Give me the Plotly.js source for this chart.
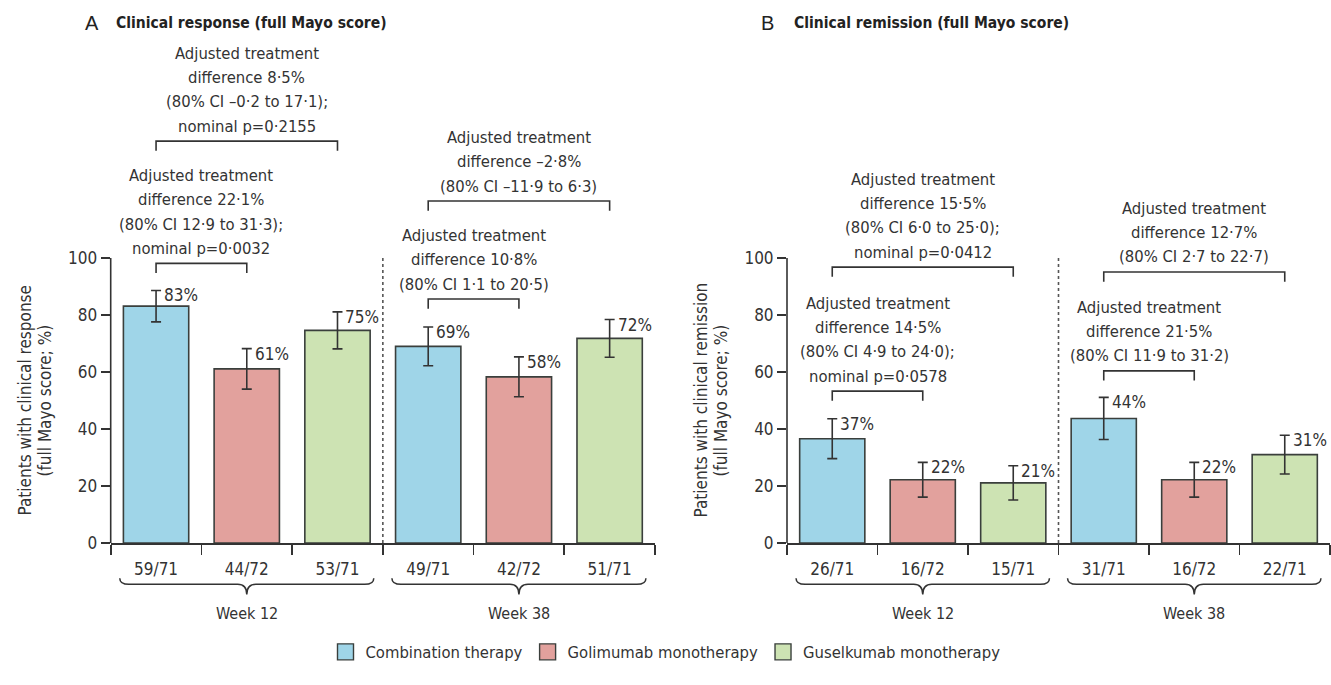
<!DOCTYPE html>
<html>
<head>
<meta charset="utf-8">
<script src="https://cdn.plot.ly/plotly-3.0.1.min.js"></script>
<style>html,body{margin:0;padding:0;background:#fff;}#chart{width:1331px;height:685px;}</style>
</head>
<body>
<div id="chart"></div>
<script>
// ---------- DATA ----------
const treatments = ['Combination therapy', 'Golimumab monotherapy', 'Guselkumab monotherapy'];
const weeks = ['Week 12', 'Week 38'];

// Panel A: clinical response (%), [week 12, week 38]
const respCombo = [83.1, 69.0];
const respGoli = [61.1, 58.3];
const respGusel = [74.6, 71.8];
const respComboErr = [5.5, 6.8];
const respGoliErr = [7.1, 7.0];
const respGuselErr = [6.5, 6.6];
const respCounts = ['59/71', '44/72', '53/71', '49/71', '42/72', '51/71'];

// Panel B: clinical remission (%), [week 12, week 38]
const remCombo = [36.6, 43.7];
const remGoli = [22.2, 22.2];
const remGusel = [21.1, 31.0];
const remComboErr = [7.0, 7.4];
const remGoliErr = [6.1, 6.1];
const remGuselErr = [6.0, 6.8];
const remCounts = ['26/71', '16/72', '15/71', '31/71', '16/72', '22/71'];

// Comparison brackets: [from bar, to bar, bracket level (%), text]
const respBrackets = [
  [0, 1, 98.1, 'Adjusted treatment<br>difference 22·1%<br>(80% CI 12·9 to 31·3);<br>nominal p=0·0032'],
  [0, 2, 141.0, 'Adjusted treatment<br>difference 8·5%<br>(80% CI –0·2 to 17·1);<br>nominal p=0·2155'],
  [3, 4, 85.6, 'Adjusted treatment<br>difference 10·8%<br>(80% CI 1·1 to 20·5)'],
  [3, 5, 120.0, 'Adjusted treatment<br>difference –2·8%<br>(80% CI –11·9 to 6·3)']
];
const remBrackets = [
  [0, 1, 53.3, 'Adjusted treatment<br>difference 14·5%<br>(80% CI 4·9 to 24·0);<br>nominal p=0·0578'],
  [0, 2, 96.8, 'Adjusted treatment<br>difference 15·5%<br>(80% CI 6·0 to 25·0);<br>nominal p=0·0412'],
  [3, 4, 60.4, 'Adjusted treatment<br>difference 21·5%<br>(80% CI 11·9 to 31·2)'],
  [3, 5, 95.1, 'Adjusted treatment<br>difference 12·7%<br>(80% CI 2·7 to 22·7)']
];

const yTicks = [0, 20, 40, 60, 80, 100];
const respTitle = ['Patients with clinical response', '(full Mayo score; %)'];
const remTitle = ['Patients with clinical remission', '(full Mayo score; %)'];

// ---------- STYLE ----------
const FONT = "'DejaVu Sans Condensed', 'Liberation Sans', sans-serif";
const INK = '#333333';
const fills = ['#9fd5e8', '#e2a19d', '#cde3b3'];
const OUT = '#3a3f3c';

function panelTraces(vals, errs, xa, ya) {
  return vals.map((v, t) => ({
    type: 'bar',
    name: treatments[t],
    legendgroup: treatments[t],
    showlegend: false,
    x: weeks.map((w, k) => k * 3 + t),
    y: v,
    width: 0.72,
    xaxis: xa, yaxis: ya,
    marker: {color: fills[t], line: {color: OUT, width: 1.6}},
    error_y: {type: 'data', array: errs[t], visible: true, color: INK, thickness: 1.6, width: 5},
    hoverinfo: 'skip'
  }));
}

// legend-only entries (no data points)
const legendTraces = treatments.map((name, t) => ({
  type: 'scatter', mode: 'markers', name: name, legendgroup: name,
  x: [null], y: [null], xaxis: 'x', yaxis: 'y',
  marker: {symbol: 'square', size: 16, color: fills[t], line: {color: OUT, width: 1.4}},
  hoverinfo: 'skip'
}));

const traces = [
  ...panelTraces([respCombo, respGoli, respGusel], [respComboErr, respGoliErr, respGuselErr], 'x', 'y'),
  ...panelTraces([remCombo, remGoli, remGusel], [remComboErr, remGoliErr, remGuselErr], 'x2', 'y2'),
  ...legendTraces
];

const shapes = [];
const annotations = [];
const LINE_STEP = 24.3;

function decoratePanel(vals, errs, brackets, xa, ya, titleLines, titleX) {
  const xr = xa, yr = ya;
  // y axis line (0-100)
  shapes.push({type: 'line', xref: xr + ' domain', yref: yr, x0: 0, x1: 0, y0: 0, y1: 100,
    line: {color: INK, width: 1.6}});
  // dotted separator between weeks
  shapes.push({type: 'line', xref: xr, yref: yr, x0: 2.5, x1: 2.5, y0: 0, y1: 100,
    line: {color: '#555', width: 1.6, dash: 'dot'}});
  // percentage labels
  vals.forEach((v, t) => v.forEach((val, k) => {
    annotations.push({xref: xr, yref: yr, x: k * 3 + t, y: val + errs[t][k],
      text: Math.round(val) + '%', showarrow: false, xanchor: 'left', yanchor: 'middle',
      xshift: 6, yshift: -5, font: {family: FONT, size: 17, color: INK}});
  }));
  // brackets
  brackets.forEach(b => {
    const [a, c, lvl, txt] = b;
    const drop = 3.4;
    shapes.push({type: 'path', xref: xr, yref: yr,
      path: `M ${a},${lvl - drop} L ${a},${lvl} L ${c},${lvl} L ${c},${lvl - drop}`,
      line: {color: INK, width: 1.6}});
    const lines = txt.split('<br>');
    lines.forEach((ln, i) => {
      annotations.push({xref: xr, yref: yr, x: (a + c) / 2, y: lvl, text: ln, showarrow: false,
        xanchor: 'center', yanchor: 'middle', yshift: 15 + LINE_STEP * (lines.length - 1 - i),
        font: {family: FONT, size: 16.5, color: INK}});
    });
  });
  // braces under week groups
  const yTip = 0.156, yLine = 0.147, yPt = 0.132;
  weeks.forEach((w, k) => {
    const x0 = k * 3 - 0.4, x1 = k * 3 + 2.4, xc = k * 3 + 1, d = 0.1;
    shapes.push({type: 'path', xref: xr, yref: 'paper',
      path: `M ${x0},${yTip} Q ${x0},${yLine} ${x0 + d},${yLine} L ${xc - d},${yLine} Q ${xc},${yLine} ${xc},${yPt} Q ${xc},${yLine} ${xc + d},${yLine} L ${x1 - d},${yLine} Q ${x1},${yLine} ${x1},${yTip}`,
      line: {color: INK, width: 1.5}});
    annotations.push({xref: xr, yref: 'paper', x: xc, y: 0.105, text: w, showarrow: false,
      xanchor: 'center', yanchor: 'middle', font: {family: FONT, size: 16, color: INK}});
  });
  // rotated y-axis title (centred on the 0-100 axis)
  titleLines.forEach((ln, i) => {
    annotations.push({xref: 'paper', yref: yr, x: titleX[i] / 1331, y: 50, text: ln, showarrow: false,
      textangle: -90, xanchor: 'center', yanchor: 'middle', font: {family: FONT, size: 17, color: INK}});
  });
}

decoratePanel([respCombo, respGoli, respGusel], [respComboErr, respGoliErr, respGuselErr], respBrackets, 'x', 'y', respTitle, [24, 44]);
decoratePanel([remCombo, remGoli, remGusel], [remComboErr, remGoliErr, remGuselErr], remBrackets, 'x2', 'y2', remTitle, [700, 720]);

// panel titles
annotations.push({xref: 'paper', yref: 'paper', x: 83 / 1331, y: 0.966, text: 'A', showarrow: false,
  xanchor: 'left', yanchor: 'middle', font: {family: "'Liberation Sans', sans-serif", size: 20, color: '#222'}});
annotations.push({xref: 'paper', yref: 'paper', x: 114 / 1331, y: 0.966, text: '<b>Clinical response (full Mayo score)</b>', showarrow: false,
  xanchor: 'left', yanchor: 'middle', font: {family: FONT, size: 15.5, color: '#222'}});
annotations.push({xref: 'paper', yref: 'paper', x: 759 / 1331, y: 0.966, text: 'B', showarrow: false,
  xanchor: 'left', yanchor: 'middle', font: {family: "'Liberation Sans', sans-serif", size: 20, color: '#222'}});
annotations.push({xref: 'paper', yref: 'paper', x: 792 / 1331, y: 0.966, text: '<b>Clinical remission (full Mayo score)</b>', showarrow: false,
  xanchor: 'left', yanchor: 'middle', font: {family: FONT, size: 15.5, color: '#222'}});

const barSlots = [0, 1, 2, 3, 4, 5];
const boundaries = [-0.5, 0.5, 1.5, 2.5, 3.5, 4.5, 5.5];

function xAxis(domain, labels, anchor) {
  return {domain: domain, range: [-0.5, 5.5], tickmode: 'array', tickvals: barSlots, ticktext: labels, anchor: anchor,
    ticks: '', ticklabelstandoff: 10, showgrid: false, zeroline: false, showline: true, linecolor: INK, linewidth: 1.6,
    tickfont: {family: FONT, size: 17, color: INK}, fixedrange: true,
    minor: {tickmode: 'array', tickvals: boundaries, ticks: 'outside', ticklen: 10, tickwidth: 1.6, tickcolor: INK, showgrid: false}};
}
function yAxis(domain, anchor) {
  return {domain: domain, range: [0, 150], tickmode: 'array', tickvals: yTicks, anchor: anchor,
    ticks: 'outside', ticklen: 9, tickwidth: 1.6, tickcolor: INK, showline: false, showgrid: false, zeroline: false,
    tickfont: {family: FONT, size: 17, color: INK}, fixedrange: true};
}

const yDom = [(685 - 543) / 685, (685 - 543 + 150 * 2.85) / 685];

const layout = {
  width: 1331, height: 685,
  margin: {l: 0, r: 0, t: 0, b: 0},
  paper_bgcolor: '#ffffff', plot_bgcolor: 'rgba(0,0,0,0)',
  barmode: 'overlay',
  font: {family: FONT, color: INK},
  xaxis: xAxis([110.7 / 1331, 655 / 1331], respCounts, 'y'),
  yaxis: yAxis(yDom, 'x'),
  xaxis2: xAxis([787 / 1331, 1330 / 1331], remCounts, 'y2'),
  yaxis2: yAxis(yDom, 'x2'),
  showlegend: true,
  legend: {orientation: 'h', x: 0.5, xanchor: 'center', y: 0.048, yanchor: 'middle',
    font: {family: FONT, size: 16.5, color: INK}, traceorder: 'normal', itemwidth: 30},
  shapes: shapes,
  annotations: annotations
};

Plotly.newPlot('chart', traces, layout, {displayModeBar: false, staticPlot: true});
</script>
</body>
</html>
